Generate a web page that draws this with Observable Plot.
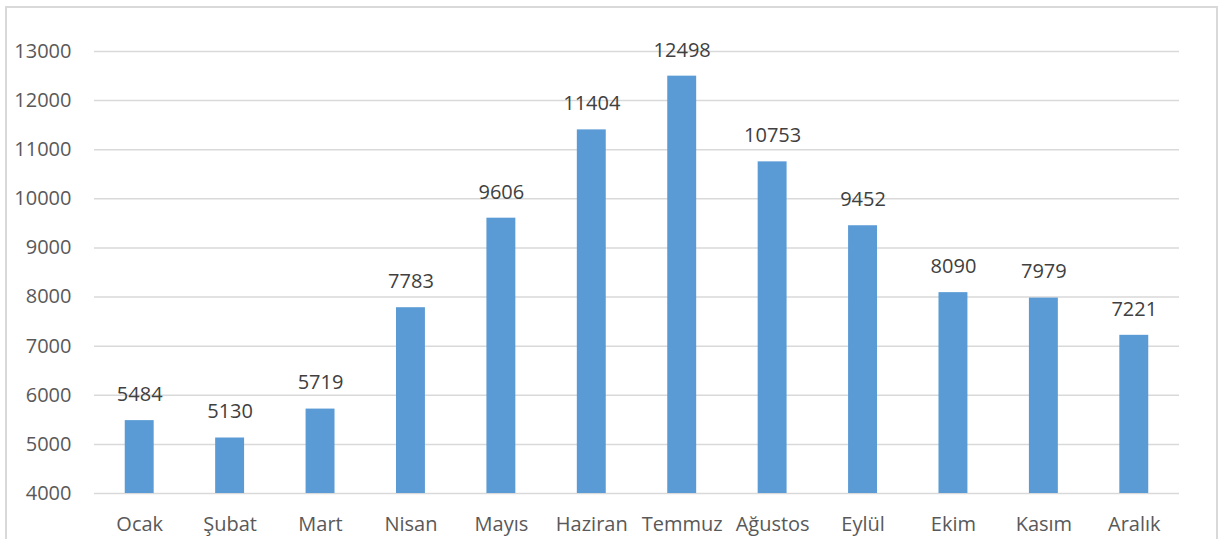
<!DOCTYPE html>
<html><head><meta charset="utf-8">
<script src="https://cdn.jsdelivr.net/npm/d3@7"></script>
<script src="https://cdn.jsdelivr.net/npm/@observablehq/plot@0.6"></script>
<style>
body{margin:0;background:#fff;overflow:hidden}
#wrap{position:relative;width:1222px;height:539px}
#border{position:absolute;left:5px;top:6px;width:1213px;height:560px;border:2px solid #d9d9d9;box-sizing:border-box}
#chart{position:absolute;left:0;top:0}
</style></head><body>
<div id="wrap"><div id="border"></div><div id="chart"></div></div>
<script>
const months = ["Ocak","Şubat","Mart","Nisan","Mayıs","Haziran","Temmuz","Ağustos","Eylül","Ekim","Kasım","Aralık"];
const values = [5484,5130,5719,7783,9606,11404,12498,10753,9452,8090,7979,7221];
const yTicks = [4000,5000,6000,7000,8000,9000,10000,11000,12000,13000];
const data = months.map((m,i)=>({month:m,value:values[i]}));
const font = "'Open Sans', Lato, sans-serif";
const chart = Plot.plot({
  width:1222, height:539,
  marginLeft:94, marginRight:43, marginTop:51, marginBottom:46,
  style:{fontFamily:font, fontSize:"20px", color:"#595959", background:"transparent"},
  x:{domain:months, paddingInner:0.68, paddingOuter:0.34, round:false, label:null, tickSize:0, tickPadding:23},
  y:{domain:[4000,13000], ticks:yTicks, label:null, tickSize:0, tickPadding:23, tickFormat:d=>String(d)},
  marks:[
    Plot.gridY(yTicks,{stroke:"#d9d9d9", strokeOpacity:1, strokeWidth:1.5}),
    Plot.barY(data,{x:"month", y1:4000, y2:"value", fill:"#5b9bd5"}),
    Plot.text(data,{x:"month", y:"value", text:d=>String(d.value), dy:-26, fill:"#404040", fontSize:20})
  ]
});
document.getElementById("chart").appendChild(chart);
</script></body></html>
